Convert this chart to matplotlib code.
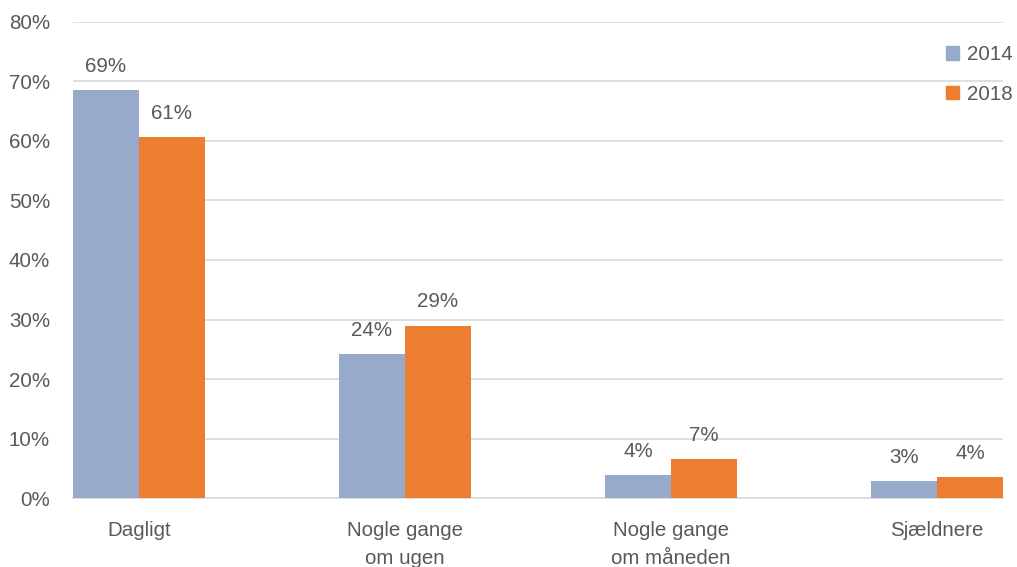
import matplotlib.pyplot as plt
import numpy as np
from matplotlib.patches import Patch

# Survey shares per frequency group (percent)
categories = ['Dagligt', 'Nogle gange\nom ugen', 'Nogle gange\nom måneden', 'Sjældnere']
years = ['2014', '2018']
share_2014 = [68.6, 24.2, 3.9, 2.9]
share_2018 = [60.6, 29.0, 6.6, 3.6]
y_ticks = [0, 10, 20, 30, 40, 50, 60, 70, 80]

blue = '#98AACC'
orange = '#ED7D31'
text_col = '#595959'
grid_col = '#D9D9D9'
fs = 14.8

plt.rcParams['font.family'] = ['Liberation Sans', 'DejaVu Sans']

fig = plt.figure(figsize=(10.17, 5.67), dpi=100)
ax = fig.add_axes([73 / 1017, 0.1212, 930 / 1017, 0.8405])

x = np.arange(len(categories))
w = 0.248
b1 = ax.bar(x - w / 2, share_2014, width=w, color=blue, zorder=3)
b2 = ax.bar(x + w / 2, share_2018, width=w, color=orange, zorder=3)

for bars, vals in ((b1, share_2014), (b2, share_2018)):
    for bar, v in zip(bars, vals):
        ax.annotate(f'{round(v):.0f}%', (bar.get_x() + bar.get_width() / 2, v),
                    xytext=(0, 17), textcoords='offset points',
                    ha='center', va='center', fontsize=fs, color=text_col)

ax.set_xlim(-0.248, 3.248)
ax.set_ylim(0, 80)
ax.set_yticks(y_ticks)
ax.set_yticklabels([f'{t}%' for t in y_ticks])
ax.set_xticks(x)
ax.set_xticklabels(categories, linespacing=1.6)
ax.tick_params(axis='both', length=0, labelsize=fs, labelcolor=text_col)
ax.tick_params(axis='y', pad=16.5)
ax.tick_params(axis='x', pad=16.5)
ax.yaxis.grid(True, color=grid_col, linewidth=1.2, zorder=0)
ax.set_axisbelow(True)
for s in ['top', 'right', 'left']:
    ax.spines[s].set_visible(False)
ax.spines['bottom'].set_color(grid_col)
ax.spines['bottom'].set_linewidth(1.2)

handles = [Patch(color=blue, label=years[0]), Patch(color=orange, label=years[1])]
fig.legend(handles=handles, loc='upper left', bbox_to_anchor=(936 / 1017, 1 - 35 / 567),
           frameon=False, fontsize=fs, handlelength=0.62, handleheight=0.62,
           handletextpad=0.4, labelspacing=1.0, borderpad=0, labelcolor=text_col)

fig.savefig('out.png', dpi=100)
